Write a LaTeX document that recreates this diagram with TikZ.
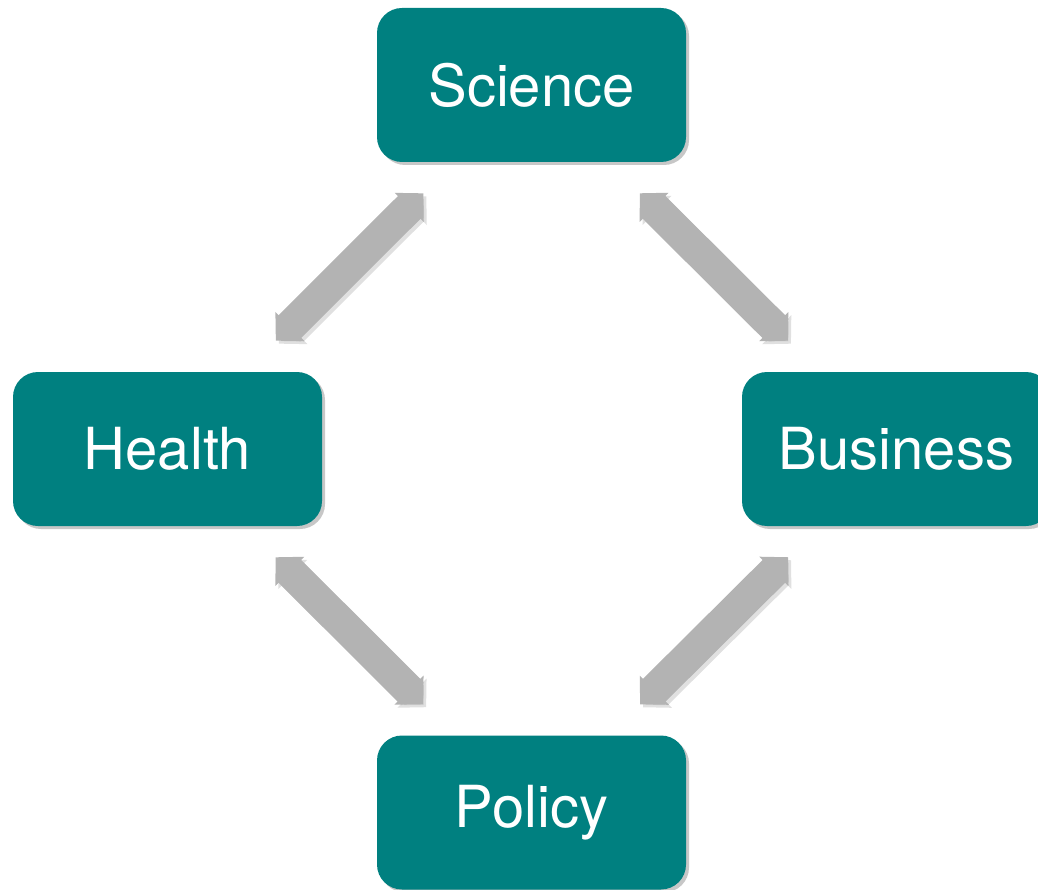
\documentclass[tikz,border=0pt]{standalone}
\usepackage{fontspec}
\setmainfont{TeX Gyre Heros}
\usetikzlibrary{arrows.meta,shadows}
\definecolor{boxteal}{RGB}{0,128,128}
\definecolor{linkgray}{RGB}{179,179,179}

\begin{document}
\begin{tikzpicture}[x=1pt, y=-1pt,
    field/.style={rectangle, rounded corners=25pt, fill=boxteal, text=white,
        minimum width=309pt, minimum height=154pt, inner sep=0pt,
        font=\fontsize{58}{60}\selectfont,
        drop shadow={shadow xshift=3pt, shadow yshift=-3pt, fill=black, opacity=0.22}},
    link/.style={line width=32pt, draw=linkgray,
        {Triangle[length=20pt, width=40pt]}-{Triangle[length=20pt, width=40pt]},
        shorten <=44pt, shorten >=44pt},
    linkshadow/.style={link, draw=black!30, opacity=0.4,
        transform canvas={shift={(3pt,-3pt)}}}]
        \useasboundingbox (0,0) rectangle (1038,890);
        % Nodes
        \node[field] (sci) at (531.5,85) {Science};
        \node[field] (hea) at (167.5,449) {Health};
        \node[field] (bus) at (896.5,449) {Business};
        \node[field] (pol) at (531.5,812.5) {Policy};

        % Arrows
        \foreach \a/\b in {sci/hea, sci/bus, hea/pol, bus/pol} {
            \draw[linkshadow] (\a) -- (\b);
            \draw[link] (\a) -- (\b);
        }
    \end{tikzpicture}
\end{document}
